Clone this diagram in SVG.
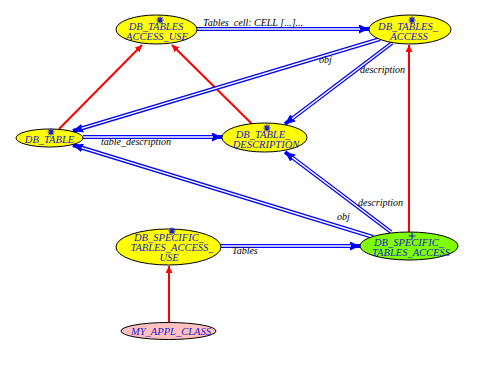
<svg xmlns="http://www.w3.org/2000/svg" width="495" height="377" viewBox="0 0 495 377">
<defs>
<style>
.node ellipse{stroke:#000;stroke-width:1}
.y{fill:#ffff00}
.g{fill:#80ff00}
.p{fill:#ffc0c0}
.nt{font-family:"Liberation Serif",serif;font-style:italic;font-size:10.5px;fill:#1a1acc;text-anchor:middle}
.lbl{font-family:"Liberation Serif",serif;font-style:italic;font-size:10px;fill:#000}
.star{stroke:#1a1acc;stroke-width:1.2;fill:none}
.bo{stroke:#0000ff;stroke-width:4;fill:none}
.bi{stroke:#fff;stroke-width:1.4;fill:none}
.red{stroke:#ff0000;stroke-width:2;fill:none}
</style>
<marker id="ab" markerUnits="userSpaceOnUse" markerWidth="11" markerHeight="9" refX="10" refY="4.5" orient="auto">
<path d="M0,0 L10,4.5 L0,9 z" fill="#0000ff"/>
</marker>
<marker id="ar" markerUnits="userSpaceOnUse" markerWidth="8" markerHeight="7" refX="7" refY="3.5" orient="auto">
<path d="M0,0 L7,3.5 L0,7 z" fill="#ff0000"/>
</marker>
<path id="st" class="star" d="M0,-3.5 V3.5 M-3.5,0 H3.5 M-2.5,-2.5 L2.5,2.5 M-2.5,2.5 L2.5,-2.5"/>
</defs>
<rect width="495" height="377" fill="#fff"/>
<g id="connectors">
<line class="red" x1="59" y1="129" x2="142" y2="45" marker-end="url(#ar)"/>
<line class="red" x1="252" y1="124" x2="172" y2="45" marker-end="url(#ar)"/>
<line class="red" x1="409" y1="232" x2="409" y2="45" marker-end="url(#ar)"/>
<line class="red" x1="169" y1="323" x2="169" y2="266" marker-end="url(#ar)"/>
<line class="bo" x1="197" y1="29" x2="369" y2="29" marker-end="url(#ab)"/>
<line class="bi" x1="197" y1="29" x2="360" y2="29"/>
<line class="bo" x1="380" y1="39" x2="73" y2="131" marker-end="url(#ab)"/>
<line class="bi" x1="380" y1="39" x2="81.6" y2="128.4"/>
<line class="bo" x1="392" y1="43" x2="285" y2="124" marker-end="url(#ab)"/>
<line class="bi" x1="392" y1="43" x2="292.2" y2="118.6"/>
<line class="bo" x1="83" y1="137" x2="222" y2="137" marker-end="url(#ab)"/>
<line class="bi" x1="83" y1="137" x2="213" y2="137"/>
<line class="bo" x1="373" y1="237" x2="73" y2="145" marker-end="url(#ab)"/>
<line class="bi" x1="373" y1="237" x2="81.6" y2="147.6"/>
<line class="bo" x1="391" y1="232" x2="285" y2="152" marker-end="url(#ab)"/>
<line class="bi" x1="391" y1="232" x2="292.2" y2="157.4"/>
<line class="bo" x1="221" y1="246" x2="360" y2="246" marker-end="url(#ab)"/>
<line class="bi" x1="221" y1="246" x2="351" y2="246"/>
<text class="lbl" x="203" y="26">Tables_cell: CELL [...]...</text>
<text class="lbl" x="319" y="63">obj</text>
<text class="lbl" x="360" y="73">description</text>
<text class="lbl" x="101" y="145">table_description</text>
<text class="lbl" x="358" y="206">description</text>
<text class="lbl" x="337" y="220">obj</text>
<text class="lbl" x="232" y="254">Tables</text>
</g>
<g id="n_db_tables_access_use" class="node">
<ellipse class="y" cx="156.5" cy="29.5" rx="40.5" ry="14.5"/>
<use href="#st" x="160" y="20"/>
<text class="nt" x="156" y="29.5">DB_TABLES</text>
<text class="nt" x="157" y="39.5">ACCESS_USE</text>
</g>
<g id="n_db_tables_access" class="node">
<ellipse class="y" cx="410" cy="29.5" rx="41" ry="14.5"/>
<use href="#st" x="412" y="20"/>
<text class="nt" x="408" y="29.5">DB_TABLES_</text>
<text class="nt" x="409" y="39.5">ACCESS</text>
</g>
<g id="n_db_table" class="node">
<ellipse class="y" cx="49.5" cy="138" rx="33.5" ry="9"/>
<use href="#st" x="51" y="132"/>
<text class="nt" x="49.5" y="143">DB_TABLE</text>
</g>
<g id="n_db_table_description" class="node">
<ellipse class="y" cx="264.5" cy="137.5" rx="42.5" ry="14.5"/>
<use href="#st" x="267" y="128"/>
<text class="nt" x="263" y="137.5">DB_TABLE_</text>
<text class="nt" x="266" y="147.5">DESCRIPTION</text>
</g>
<g id="n_db_specific_tables_access_use" class="node">
<ellipse class="y" cx="168.5" cy="247" rx="52.5" ry="18"/>
<use href="#st" x="172" y="231"/>
<text class="nt" x="169" y="240.5">DB_SPECIFIC_</text>
<text class="nt" x="172" y="250.5">TABLES_ACCESS_</text>
<text class="nt" x="169" y="260.5">USE</text>
</g>
<g id="n_db_specific_tables_access" class="node">
<ellipse class="g" cx="409" cy="246" rx="49" ry="14"/>
<path class="star" d="M412,232.5 V239.5 M408.5,236 H415.5"/>
<text class="nt" x="409" y="246">DB_SPECIFIC_</text>
<text class="nt" x="411" y="255.5">TABLES_ACCESS</text>
</g>
<g id="n_my_appl_class" class="node">
<ellipse class="p" cx="168.5" cy="331" rx="47.5" ry="8.5"/>
<text class="nt" x="171" y="335">MY_APPL_CLASS</text>
</g>
</svg>
